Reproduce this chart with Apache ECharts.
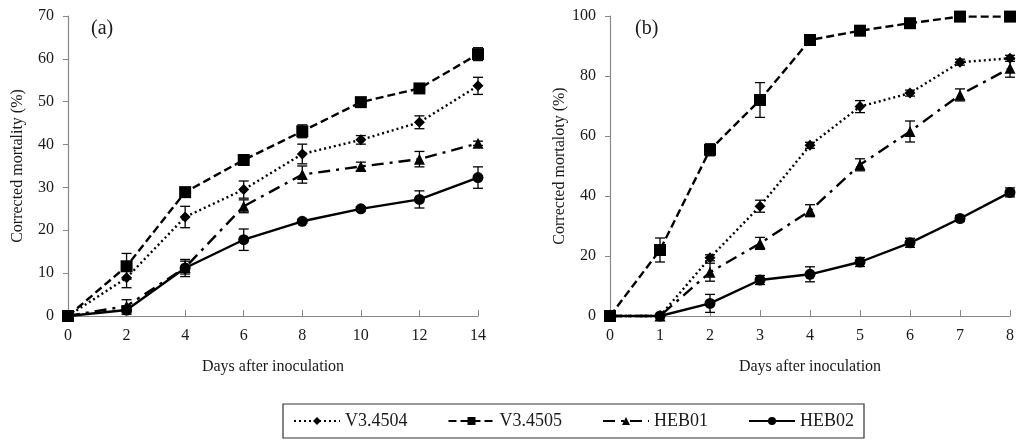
<!DOCTYPE html>
<html>
<head>
<meta charset="utf-8">
<script src="https://cdn.jsdelivr.net/npm/echarts@6/dist/echarts.min.js"></script>
<style>
  html, body { margin: 0; padding: 0; background: #fff; }
  #main { width: 1017px; height: 440px; }
</style>
</head>
<body>
<div id="main"></div>
<script>
// panel (a): days 0..14
var daysA = [0, 2, 4, 6, 8, 10, 12, 14];
var v4504A = [0, 8.9, 23.1, 29.5, 37.8, 41.1, 45.2, 53.7];
var v4504AErr = [0, 2.3, 2.5, 2.0, 2.3, 1.0, 1.5, 2.0];
var v4505A = [0, 11.6, 28.9, 36.4, 43.1, 49.9, 53.1, 61.1];
var v4505AErr = [0, 3.0, 0.5, 0.5, 1.5, 0.5, 1.0, 1.5];
var heb01A = [0, 2.3, 11.3, 25.6, 33.0, 34.9, 36.6, 40.3];
var heb01AErr = [0, 1.5, 1.5, 1.5, 2.0, 1.0, 1.8, 0.5];
var heb02A = [0, 1.4, 11.2, 17.8, 22.1, 25.0, 27.2, 32.3];
var heb02AErr = [0, 1.0, 2.0, 2.5, 0.5, 0.5, 2.0, 2.5];

// panel (b): days 0..8
var daysB = [0, 1, 2, 3, 4, 5, 6, 7, 8];
var v4504B = [0, 0, 19.4, 36.6, 56.9, 69.8, 74.3, 84.6, 85.9];
var v4504BErr = [0, 0, 1.0, 2.0, 1.0, 2.0, 1.0, 1.0, 1.0];
var v4505B = [0, 22, 55.4, 72, 92, 95.1, 97.6, 99.8, 99.8];
var v4505BErr = [0, 4.0, 2.0, 5.8, 0.5, 0.5, 1.0, 0.5, 0.5];
var heb01B = [0, 0, 14.6, 24.2, 35.1, 50.4, 61.5, 73.7, 82.6];
var heb01BErr = [0, 0, 3.0, 2.0, 2.0, 2.0, 3.5, 2.0, 3.0];
var heb02B = [0, 0, 4.2, 12, 13.9, 18, 24.4, 32.5, 41.2];
var heb02BErr = [0, 0, 3.0, 1.5, 2.5, 1.5, 1.5, 1.0, 1.5];

var names = ['V3.4504', 'V3.4505', 'HEB01', 'HEB02'];

var font = 'Liberation Serif';
var ink = '#1a1a1a';

var styles = [
  { symbol: 'diamond', size: 11, dash: [2, 3] },
  { symbol: 'rect', size: 12, dash: [8, 4] },
  { symbol: 'triangle', size: 11, dash: [12, 6, 3, 6] },
  { symbol: 'circle', size: 11, dash: 'solid' }
];

function pairs(xs, ys) {
  return xs.map(function (x, i) { return [x, ys[i]]; });
}
function errPairs(xs, ys, es) {
  return xs.map(function (x, i) { return [x, ys[i], es[i]]; });
}

// error bar: vertical line with caps
function errRender(params, api) {
  var x = api.value(0), y = api.value(1), e = api.value(2);
  if (!e) return null;
  var top = api.coord([x, y + e]);
  var bot = api.coord([x, y - e]);
  var w = 5;
  var st = { stroke: '#000', lineWidth: 1.3 };
  return {
    type: 'group',
    children: [
      { type: 'line', shape: { x1: top[0], y1: top[1], x2: bot[0], y2: bot[1] }, style: st },
      { type: 'line', shape: { x1: top[0] - w, y1: top[1], x2: top[0] + w, y2: top[1] }, style: st },
      { type: 'line', shape: { x1: bot[0] - w, y1: bot[1], x2: bot[0] + w, y2: bot[1] }, style: st }
    ]
  };
}

var dataA = [v4504A, v4505A, heb01A, heb02A];
var errA = [v4504AErr, v4505AErr, heb01AErr, heb02AErr];
var dataB = [v4504B, v4505B, heb01B, heb02B];
var errB = [v4504BErr, v4505BErr, heb01BErr, heb02BErr];

var series = [];
[[daysA, dataA, errA, 0], [daysB, dataB, errB, 1]].forEach(function (p) {
  var xs = p[0], ds = p[1], es = p[2], idx = p[3];
  ds.forEach(function (ys, k) {
    series.push({
      type: 'custom',
      xAxisIndex: idx, yAxisIndex: idx,
      renderItem: errRender,
      data: errPairs(xs, ys, es[k]),
      clip: false,
      silent: true,
      z: 3
    });
  });
  ds.forEach(function (ys, k) {
    var s = styles[k];
    series.push({
      name: names[k],
      type: 'line',
      xAxisIndex: idx, yAxisIndex: idx,
      data: pairs(xs, ys),
      symbol: s.symbol,
      symbolSize: s.size,
      showAllSymbol: true,
      clip: false,
      itemStyle: { color: '#000' },
      lineStyle: { color: '#000', width: 2.4, type: s.dash },
      z: 4
    });
  });
});

function xAxis(idx, max, interval) {
  return {
    type: 'value', gridIndex: idx, min: 0, max: max, interval: interval,
    name: 'Days after inoculation', nameLocation: 'middle', nameGap: 43,
    nameTextStyle: { fontFamily: font, fontSize: 16, color: ink },
    axisLine: { lineStyle: { color: '#888', width: 1.2 } },
    axisTick: { inside: true, length: 6, lineStyle: { color: '#888' } },
    axisLabel: { fontFamily: font, fontSize: 16, color: ink, margin: 12 },
    splitLine: { show: false }
  };
}
function yAxis(idx, max, interval, title) {
  return {
    type: 'value', gridIndex: idx, min: 0, max: max, interval: interval,
    name: title, nameLocation: 'middle', nameGap: 42,
    nameTextStyle: { fontFamily: font, fontSize: 16, color: ink },
    axisLine: { show: true, lineStyle: { color: '#888', width: 1.2 } },
    axisTick: { show: true, length: 5, lineStyle: { color: '#888' } },
    axisLabel: { fontFamily: font, fontSize: 16, color: ink, margin: 14 },
    splitLine: { show: false }
  };
}

var chart = echarts.init(document.getElementById('main'));
chart.setOption({
  animation: false,
  backgroundColor: '#fff',
  title: [
    { text: '(a)', left: 86, top: 14, textStyle: { fontFamily: font, fontSize: 20, fontWeight: 'normal', color: ink } },
    { text: '(b)', left: 630, top: 14, textStyle: { fontFamily: font, fontSize: 20, fontWeight: 'normal', color: ink } }
  ],
  legend: {
    data: names,
    left: 283, top: 404,
    padding: [8, 10, 8, 10],
    borderColor: '#333', borderWidth: 1.2,
    itemWidth: 46, itemHeight: 10, itemGap: 40,
    textStyle: { fontFamily: font, fontSize: 18, color: ink }
  },
  grid: [
    { left: 68, width: 410, top: 16, height: 300 },
    { left: 610, width: 404, top: 16, height: 300 }
  ],
  xAxis: [xAxis(0, 14, 2), xAxis(1, 8, 1)],
  yAxis: [yAxis(0, 70, 10, 'Corrected mortality (%)'), yAxis(1, 100, 20, 'Corrected mortaloty (%)')],
  series: series
});
</script>
</body>
</html>
